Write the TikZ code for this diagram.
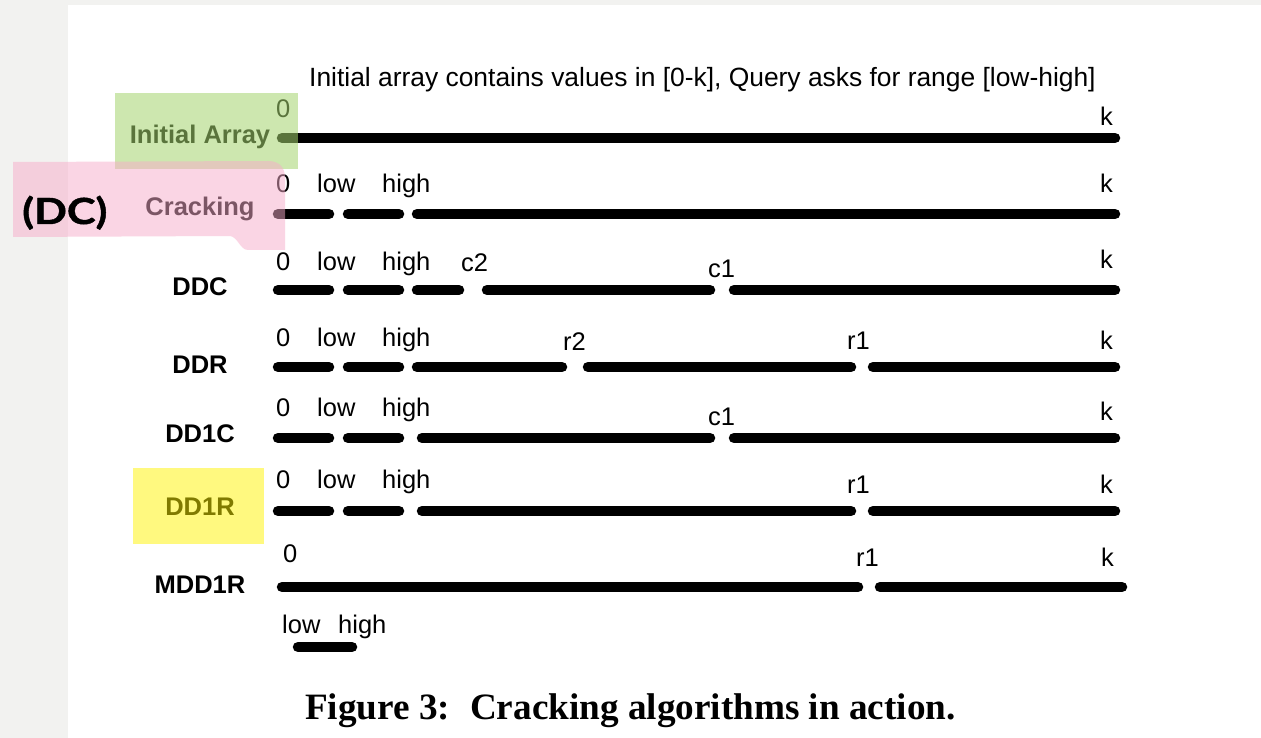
\documentclass[tikz,border=0pt]{standalone}
\usepackage{fontspec}
\setmainfont{Liberation Sans}
\newfontfamily\capfont{Liberation Serif}
\newfontfamily\tagfont[FakeStretch=1.2, BoldFeatures={FakeBold=1.2}]{Lato}
\usetikzlibrary{calc}

\definecolor{pagegray}{RGB}{242,242,240}
\definecolor{hlgreen}{RGB}{164,213,111}
\definecolor{hlpink}{RGB}{247,172,202}
\definecolor{hlyellow}{RGB}{255,245,0}

\tikzset{
  bar/.style={line width=10.5pt, line cap=round},
  lbl/.style={font=\fontsize{25.5}{30}\selectfont, anchor=base west, inner sep=0pt},
  rowname/.style={font=\fontsize{25.5}{30}\selectfont\bfseries, anchor=base, inner sep=0pt},
  marker/.style={fill opacity=#1, draw=none},
}

\begin{document}
\begin{tikzpicture}[x=1pt, y=-1pt]
  % page and surrounding margin
  \fill[pagegray] (0,0) rectangle (1261,738);
  \fill[white] (68,5) rectangle (1261,738);
  \useasboundingbox (0,0) rectangle (1261,738);

  % heading
  \node[lbl, font=\fontsize{26.4}{30}\selectfont] (head) at (309,87)
    {Initial array contains values in [0-k], Query asks for range [low-high]};

  % row names
  \node[rowname] (nInit)  at (200,144) {Initial Array};
  \node[rowname] (nCrack) at (200,215) {Cracking};
  \node[rowname] (nDDC)   at (200,295) {DDC};
  \node[rowname] (nDDR)   at (200,373) {DDR};
  \node[rowname] (nDDoneC) at (200,442) {DD1C};
  \node[rowname] (nDDoneR) at (200,515) {DD1R};
  \node[rowname] (nMDD)   at (200,593) {MDD1R};

  % row 1: initial array
  \draw[bar] (282,138) -- (1115,138);
  \node[lbl] (z1) at (276,118) {0};
  \node[lbl] (k1) at (1100,126) {k};

  % row 2: cracking
  \draw[bar] (278,214) -- (329,214);
  \draw[bar] (348,214) -- (399,214);
  \draw[bar] (417,214) -- (1115,214);
  \node[lbl] (z2) at (276,193) {0};
  \node[lbl] (lo2) at (317,193) {low};
  \node[lbl] (hi2) at (382,193) {high};
  \node[lbl] (k2) at (1100,193) {k};

  % row 3: DDC
  \draw[bar] (278,290) -- (329,290);
  \draw[bar] (348,290) -- (399,290);
  \draw[bar] (417,290) -- (459,290);
  \draw[bar] (487,290) -- (710,290);
  \draw[bar] (734,290) -- (1115,290);
  \node[lbl] (z3) at (276,270) {0};
  \node[lbl] (lo3) at (317,270) {low};
  \node[lbl] (hi3) at (382,270) {high};
  \node[lbl] (c2) at (461,272) {c2};
  \node[lbl] (c1a) at (708,277) {c1};
  \node[lbl] (k3) at (1100,269) {k};

  % row 4: DDR
  \draw[bar] (278,367) -- (329,367);
  \draw[bar] (348,367) -- (399,367);
  \draw[bar] (417,367) -- (562,367);
  \draw[bar] (588,367) -- (851,367);
  \draw[bar] (873,367) -- (1115,367);
  \node[lbl] (z4) at (276,346) {0};
  \node[lbl] (lo4) at (317,346) {low};
  \node[lbl] (hi4) at (382,346) {high};
  \node[lbl] (r2) at (563,350) {r2};
  \node[lbl] (r1a) at (847,349) {r1};
  \node[lbl] (k4) at (1100,349) {k};

  % row 5: DD1C
  \draw[bar] (278,438) -- (329,438);
  \draw[bar] (348,438) -- (399,438);
  \draw[bar] (422,438) -- (710,438);
  \draw[bar] (734,438) -- (1115,438);
  \node[lbl] (z5) at (276,416) {0};
  \node[lbl] (lo5) at (317,416) {low};
  \node[lbl] (hi5) at (382,416) {high};
  \node[lbl] (c1b) at (708,425) {c1};
  \node[lbl] (k5) at (1100,420) {k};

  % row 6: DD1R
  \draw[bar] (278,511) -- (329,511);
  \draw[bar] (348,511) -- (399,511);
  \draw[bar] (422,511) -- (851,511);
  \draw[bar] (873,511) -- (1115,511);
  \node[lbl] (z6) at (276,488) {0};
  \node[lbl] (lo6) at (317,488) {low};
  \node[lbl] (hi6) at (382,488) {high};
  \node[lbl] (r1b) at (847,493) {r1};
  \node[lbl] (k6) at (1100,493) {k};

  % row 7: MDD1R, with the query range drawn apart below
  \draw[bar] (282,587) -- (858,587);
  \draw[bar] (880,587) -- (1122,587);
  \node[lbl] (z7) at (283,562) {0};
  \node[lbl] (r1c) at (856,566) {r1};
  \node[lbl] (k7) at (1101,566) {k};
  \node[lbl] (lo7) at (282,633) {low};
  \node[lbl] (hi7) at (338,633) {high};
  \draw[bar] (298,647) -- (352,647);

  % caption
  \node[anchor=base west, inner sep=0pt, font=\capfont\bfseries\fontsize{37.2}{42}\selectfont]
    (cap) at (305,719) {Figure 3:\hspace{0.2em} Cracking algorithms in action.};

  % highlighter marks laid over the labels
  \fill[hlgreen, marker=0.55] (115,93) rectangle (298,169);
  \fill[hlpink, marker=0.5]
    (13,162) -- (268,161) .. controls (280,161) and (285,168) .. (285,178)
    -- (285,250) -- (248,250) .. controls (240,250) and (238,237) .. (230,236)
    -- (13,237) -- cycle;
  \fill[hlyellow, marker=0.5] (133,468) rectangle (264,544);

  % side tag
  \node[anchor=base west, inner sep=0pt, font=\tagfont\bfseries\fontsize{36}{40}\selectfont]
    (dc) at (22,224) {(DC)};
\end{tikzpicture}
\end{document}
